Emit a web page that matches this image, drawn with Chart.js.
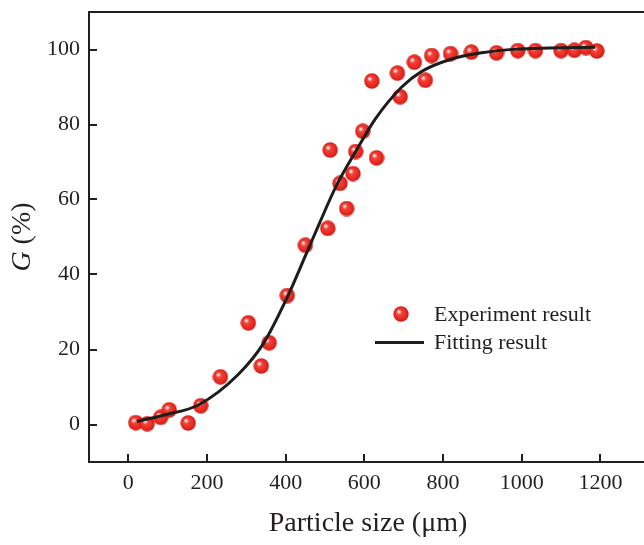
<!DOCTYPE html>
<html><head><meta charset="utf-8">
<script src="https://cdn.jsdelivr.net/npm/chart.js@4"></script>
<style>html,body{margin:0;padding:0;background:#fff;overflow:hidden}#wrap{width:644px;height:545px;position:relative}</style>
</head><body><div id="wrap"><canvas id="c" width="644" height="545"></canvas></div>
<script>
// ---- data ----
const expX = [19, 48, 82, 104, 152, 184, 234, 305, 338, 358, 404, 450, 507, 513, 538, 555, 571, 578, 596, 619, 631, 684, 691, 727, 755, 771, 819, 872, 936, 990, 1035, 1100, 1134, 1163, 1191];
const expY = [0.5, 0.2, 1.9, 3.9, 0.4, 5.0, 12.7, 27.1, 15.6, 21.8, 34.4, 47.8, 52.3, 73.2, 64.3, 57.6, 66.9, 72.8, 78.2, 91.6, 71.1, 93.7, 87.4, 96.6, 91.8, 98.4, 98.9, 99.3, 99.1, 99.7, 99.7, 99.7, 99.8, 100.5, 99.6];
const fitX = [22, 94, 178, 278, 344, 403, 453, 486, 528, 578, 628, 695, 745, 820, 903, 986, 1070, 1187];
const fitY = [0.8, 2.6, 5.2, 13.2, 21.7, 33.7, 45.7, 53.7, 63.5, 72.8, 81.5, 90.0, 94.1, 97.4, 99.2, 100.1, 100.4, 100.6];
const xTickLabels = [0, 200, 400, 600, 800, 1000, 1200];
const yTickLabels = [0, 20, 40, 60, 80, 100];
const xTitle = 'Particle size (μm)';
const yTitleItalic = 'G';
const yTitleRest = ' (%)';
const legendLabels = ['Experiment result', 'Fitting result'];

const FONT = "'Liberation Serif', 'Times New Roman', serif";
const INK = '#231f20';

// sphere marker
function makeSphere(d) {
  const c = document.createElement('canvas');
  c.width = d; c.height = d;
  const g = c.getContext('2d');
  const r = d / 2;
  const grad = g.createRadialGradient(r - d * 0.16, r - d * 0.17, 0, r, r, r);
  grad.addColorStop(0, '#ffffff');
  grad.addColorStop(0.12, '#fbd3d0');
  grad.addColorStop(0.32, '#f0443c');
  grad.addColorStop(0.75, '#e8271f');
  grad.addColorStop(1, '#c41a14');
  g.fillStyle = grad;
  g.beginPath(); g.arc(r, r, r - 0.3, 0, Math.PI * 2); g.fill();
  return c;
}
const sphere = makeSphere(16);

const framePlugin = {
  id: 'frame',
  afterDatasetsDraw(chart) {
    const ctx = chart.ctx;
    const a = chart.chartArea;
    const xs = chart.scales.x, ys = chart.scales.y;
    ctx.save();
    ctx.strokeStyle = INK;
    ctx.lineWidth = 2;
    ctx.lineCap = 'butt';
    // axes + top border
    ctx.beginPath();
    ctx.moveTo(a.left, a.top); ctx.lineTo(644, a.top);
    ctx.moveTo(a.left, a.top - 1); ctx.lineTo(a.left, a.bottom + 1);
    ctx.moveTo(a.left - 1, a.bottom); ctx.lineTo(644, a.bottom);
    ctx.stroke();
    // inward ticks
    ctx.beginPath();
    xs.ticks.forEach(t => {
      const v = t.value;
      if (v <= xs.min || v >= xs.max) return;
      const px = Math.round(xs.getPixelForValue(v));
      const len = xTickLabels.includes(v) ? 8 : 5;
      ctx.moveTo(px, a.bottom); ctx.lineTo(px, a.bottom - len);
    });
    ys.ticks.forEach(t => {
      const v = t.value;
      if (v <= ys.min || v >= ys.max) return;
      const py = Math.round(ys.getPixelForValue(v));
      const len = yTickLabels.includes(v) ? 8 : 5;
      ctx.moveTo(a.left, py); ctx.lineTo(a.left + len, py);
    });
    ctx.stroke();

    // x title
    ctx.fillStyle = INK;
    ctx.textBaseline = 'middle';
    ctx.textAlign = 'center';
    ctx.font = '28px ' + FONT;
    ctx.fillText(xTitle, 368, 524);

    // y title (italic G)
    ctx.save();
    ctx.translate(23, 237);
    ctx.rotate(-Math.PI / 2);
    ctx.textAlign = 'left';
    ctx.font = 'italic 28px ' + FONT;
    const w1 = ctx.measureText(yTitleItalic).width;
    ctx.font = '28px ' + FONT;
    const w2 = ctx.measureText(yTitleRest).width;
    const x0 = -(w1 + w2) / 2;
    ctx.font = 'italic 28px ' + FONT;
    ctx.fillText(yTitleItalic, x0, 0);
    ctx.font = '28px ' + FONT;
    ctx.fillText(yTitleRest, x0 + w1, 0);
    ctx.restore();

    // legend
    ctx.drawImage(sphere, 401 - 8, 314 - 8);
    ctx.font = '22px ' + FONT;
    ctx.textAlign = 'left';
    ctx.fillText(legendLabels[0], 434, 315);
    ctx.strokeStyle = '#1d1d1b';
    ctx.lineWidth = 3;
    ctx.beginPath(); ctx.moveTo(375, 342.5); ctx.lineTo(424, 342.5); ctx.stroke();
    ctx.fillText(legendLabels[1], 434, 343);
    ctx.restore();
  }
};

const expData = expX.map((x, i) => ({x, y: expY[i]}));
const fitData = fitX.map((x, i) => ({x, y: fitY[i]}));

new Chart(document.getElementById('c'), {
  type: 'scatter',
  data: {
    datasets: [
      {
        label: legendLabels[1],
        data: fitData,
        showLine: true,
        borderColor: '#1d1d1b',
        borderWidth: 3,
        pointRadius: 0,
        fill: false,
        cubicInterpolationMode: 'monotone',
        order: 0
      },
      {
        label: legendLabels[0],
        data: expData,
        pointStyle: sphere,
        pointRadius: 8,
        order: 1
      }
    ]
  },
  options: {
    responsive: false,
    animation: false,
    devicePixelRatio: 1,
    events: [],
    layout: {padding: {top: 12, right: 0, left: 0, bottom: 0}},
    plugins: {legend: {display: false}, tooltip: {enabled: false}},
    scales: {
      x: {
        type: 'linear',
        min: -100, max: 1288,
        grid: {display: false, drawTicks: false},
        border: {display: false},
        ticks: {
          stepSize: 100, autoSkip: false, includeBounds: false,
          padding: 8, color: INK,
          font: {family: FONT, size: 22},
          maxRotation: 0,
          callback: v => xTickLabels.includes(v) ? String(v) : null
        },
        afterFit: s => { s.height = 83; s.paddingLeft = 0; s.paddingRight = 0; }
      },
      y: {
        type: 'linear',
        min: -10, max: 110,
        grid: {display: false, drawTicks: false},
        border: {display: false},
        ticks: {
          stepSize: 10, autoSkip: false,
          padding: 9, color: INK,
          font: {family: FONT, size: 22},
          callback: v => yTickLabels.includes(v) ? String(v) : null
        },
        afterFit: s => { s.width = 89; s.paddingTop = 0; s.paddingBottom = 0; }
      }
    }
  },
  plugins: [framePlugin]
});
</script>
</body></html>
